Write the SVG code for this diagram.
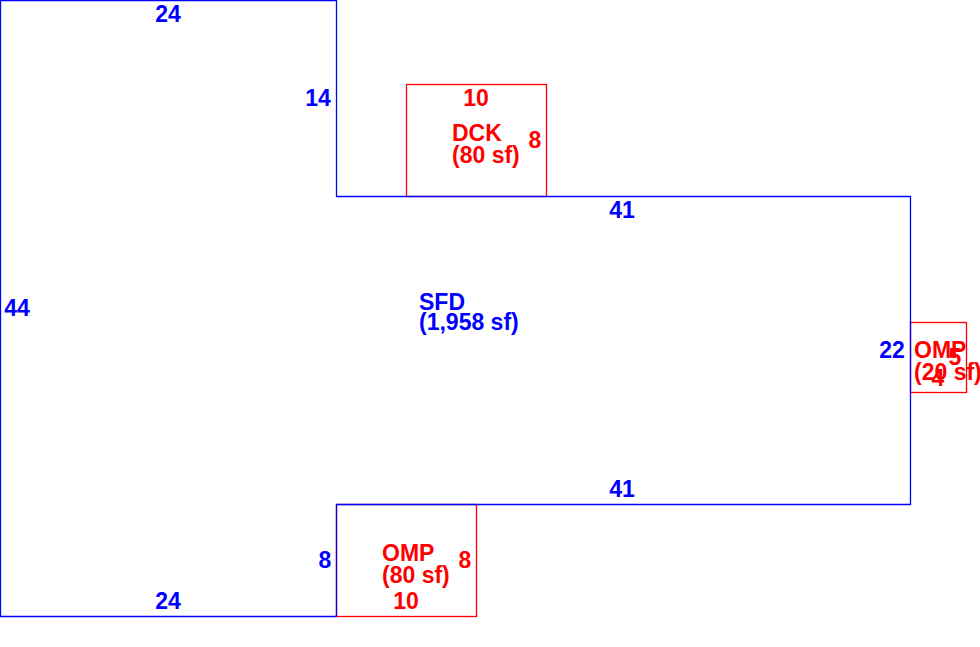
<svg xmlns="http://www.w3.org/2000/svg" width="980" height="647" viewBox="0 0 980 647">
<style>
text{font-family:"Liberation Sans",Arial,sans-serif;font-size:23px;font-weight:700}
.b{fill:#0000ff}.r{fill:#ff0000}
.lb{fill:none;stroke:#0000ff;stroke-width:1.3}.lr{fill:none;stroke:#ff0000;stroke-width:1.3}
.m{text-anchor:middle}
</style>
<rect width="980" height="647" fill="#fff"/>
<g id="dck-shape"><rect class="lr" x="406.500" y="84.500" width="140" height="112"/></g>
<g id="omp-right-shape"><rect class="lr" x="910.500" y="322.500" width="56" height="70"/></g>
<g id="omp-bottom-shape"><rect class="lr" x="336.500" y="504.500" width="140" height="112"/></g>
<g id="connectors">
<path id="sfd-outline" class="lb" d="M336.500 616.500H0.500V0.500H336.500V196.500H910.500V504.500H336.500V616.500"/>
</g>
<g id="sfd"><text class="b" x="419" y="310">SFD</text><text class="b" x="419" y="330">(1,958 sf)</text>
<text class="b m" x="168" y="22">24</text><text class="b m" x="318" y="106">14</text><text class="b m" x="622" y="218">41</text><text class="b m" x="892" y="358">22</text><text class="b m" x="622" y="497">41</text><text class="b m" x="325" y="568">8</text><text class="b m" x="168" y="609">24</text><text class="b m" x="17" y="316">44</text></g>
<g id="dck"><text class="r m" x="476" y="106">10</text><text class="r" x="452" y="141">DCK</text><text class="r" x="452" y="163">(80 sf)</text><text class="r m" x="535" y="148">8</text></g>
<g id="omp-right"><text class="r" x="914" y="358">OMP</text><text class="r" x="914" y="380">(20 sf)</text><text class="r m" x="955" y="365">5</text><text class="r m" x="938" y="386">4</text></g>
<g id="omp-bottom"><text class="r" x="382" y="561">OMP</text><text class="r" x="382" y="583">(80 sf)</text><text class="r m" x="465" y="568">8</text><text class="r m" x="406" y="609">10</text></g>
</svg>
